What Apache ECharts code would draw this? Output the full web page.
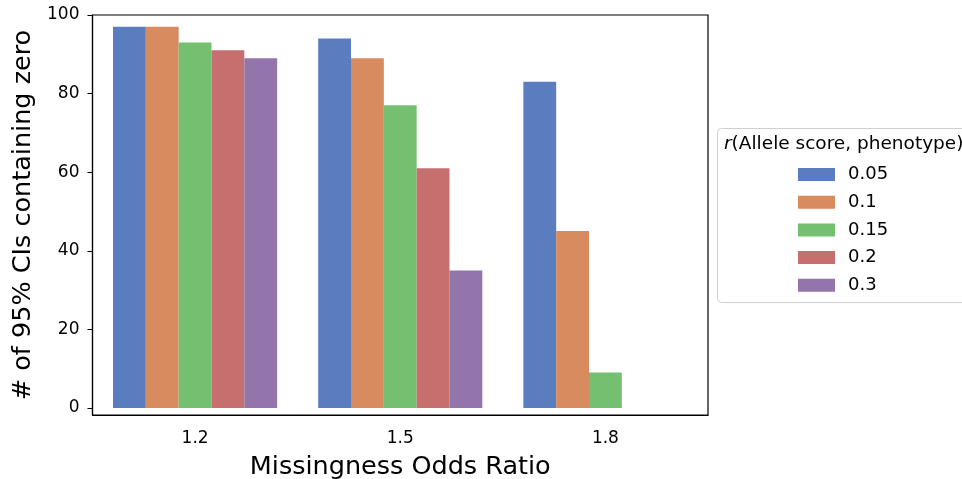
<!DOCTYPE html>
<html>
<head>
<meta charset="utf-8">
<script src="https://cdn.jsdelivr.net/npm/echarts@6/dist/echarts.min.js"></script>
<style>
  html, body { margin: 0; padding: 0; background: #fff; }
  #chart { width: 962px; height: 479px; }
</style>
</head>
<body>
<div id="chart"></div>
<script>
// odds ratio groups on the x axis
var categories = ['1.2', '1.5', '1.8'];
// r(Allele score, phenotype) levels
var rLevels = ['0.05', '0.1', '0.15', '0.2', '0.3'];
// counts per level, one value per odds ratio group
var r005 = [97, 94, 83];
var r010 = [97, 89, 45];
var r015 = [93, 77, 9];
var r020 = [91, 61, 0];
var r030 = [89, 35, 0];
var yTicks = [0, 20, 40, 60, 80, 100];

var colors = ['#597dbf', '#d88b5f', '#75bf71', '#c76e6e', '#9475ab'];
var seriesValues = [r005, r010, r015, r020, r030];

var myChart = echarts.init(document.getElementById('chart'));

var series = rLevels.map(function (name, i) {
    return {
        name: name,
        type: 'bar',
        data: seriesValues[i],
        barGap: '0%',
        barCategoryGap: '20%',
        itemStyle: { color: colors[i] },
        emphasis: { disabled: true }
    };
});

var font = 'DejaVu Sans';

var option = {
    animation: false,
    textStyle: { fontFamily: font },
    grid: {
        left: 92.5, top: 15, right: 254, bottom: 64,
        show: true, borderColor: '#000', borderWidth: 1.2,
        containLabel: false,
        outerBoundsMode: 'none'
    },
    xAxis: {
        type: 'category',
        data: categories,
        name: 'Missingness Odds Ratio',
        nameLocation: 'middle',
        nameGap: 39,
        nameTextStyle: { fontSize: 25.5, color: '#000', fontFamily: font },
        axisLine: { onZero: false, lineStyle: { color: '#000', width: 1.2 } },
        axisTick: { alignWithLabel: true, length: 5, lineStyle: { color: '#000' } },
        axisLabel: { fontSize: 17, color: '#000', margin: 15, fontFamily: font },
        splitLine: { show: false }
    },
    yAxis: {
        type: 'value',
        min: -1.8,
        max: 100,
        name: '# of 95% CIs containing zero',
        nameLocation: 'middle',
        nameGap: 50,
        nameTextStyle: { fontSize: 25.5, color: '#000', fontFamily: font },
        axisLine: { show: true, lineStyle: { color: '#000', width: 1.2 } },
        axisTick: { show: true, length: 5, customValues: yTicks, lineStyle: { color: '#000' } },
        axisLabel: { fontSize: 17, color: '#000', margin: 13, customValues: yTicks, fontFamily: font },
        splitLine: { show: false }
    },
    legend: {
        orient: 'vertical',
        left: 798,
        top: 165.5,
        padding: 0,
        itemWidth: 37,
        itemHeight: 13,
        itemGap: 9.7,
        icon: 'rect',
        selectedMode: false,
        data: rLevels,
        textStyle: { fontSize: 18, color: '#000', fontFamily: font, padding: [0, 0, 0, 8] }
    },
    graphic: [
        {
            type: 'rect',
            left: 717, top: 128,
            shape: { width: 260, height: 174, r: 4 },
            style: { fill: 'rgba(255,255,255,0.8)', stroke: '#d0d0d0', lineWidth: 1 },
            z: 0
        },
        {
            type: 'text',
            left: 724, top: 135,
            style: {
                text: '{i|r}(Allele score, phenotype)',
                fontSize: 18.5,
                fontFamily: font,
                fill: '#000',
                rich: {
                    i: { fontStyle: 'italic', fontSize: 18.5, fontFamily: font }
                }
            },
            z: 10
        }
    ],
    series: series
};

myChart.setOption(option);
</script>
</body>
</html>
